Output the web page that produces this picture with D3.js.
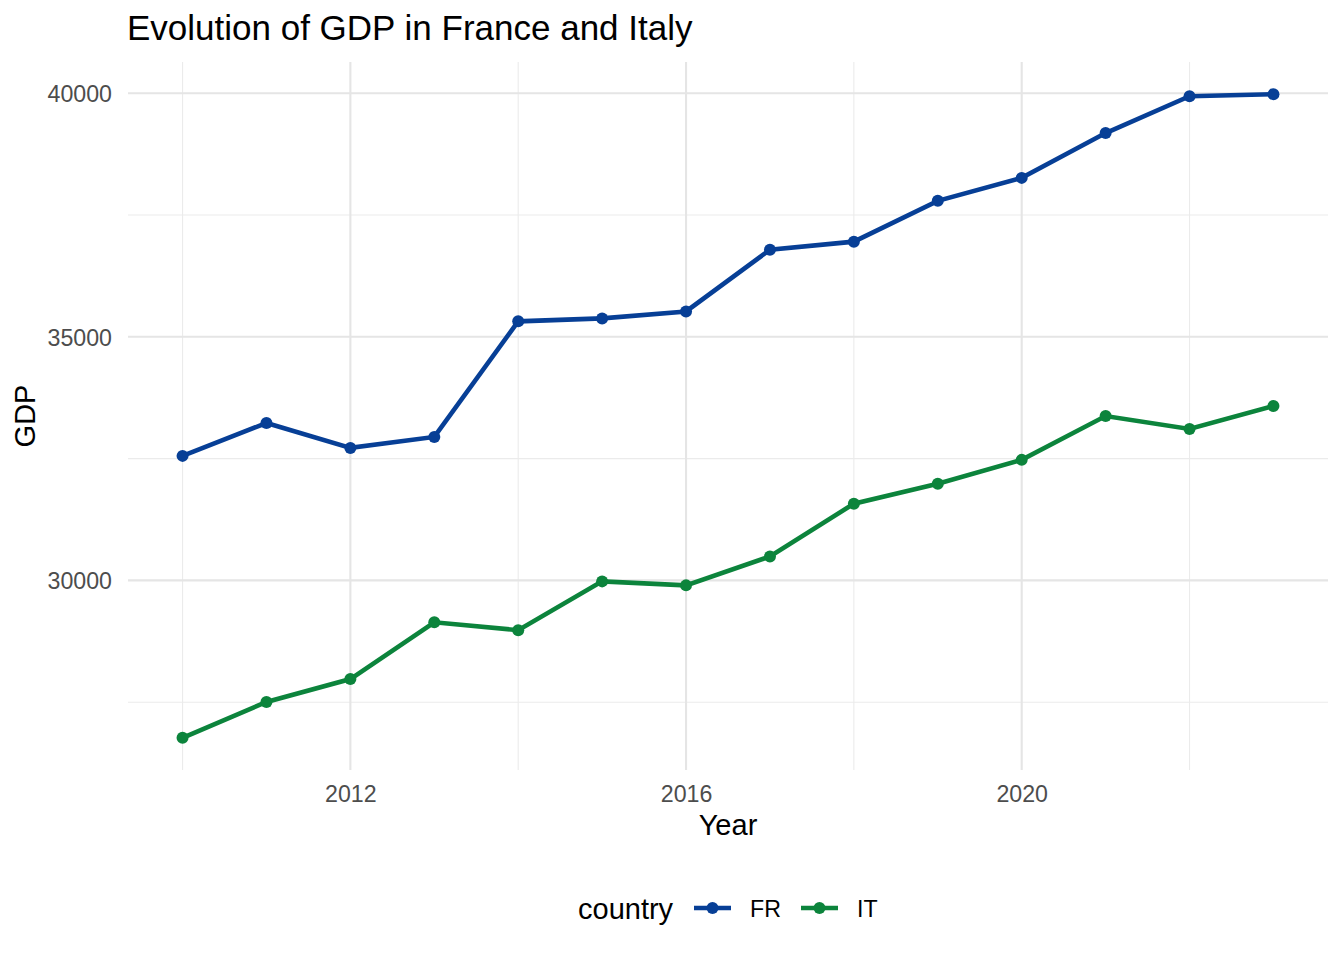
<!DOCTYPE html>
<html>
<head>
<meta charset="utf-8">
<script src="https://cdn.jsdelivr.net/npm/d3@7"></script>
<style>
  body { margin: 0; background: #fff; }
  text { font-family: "Liberation Sans", Arial, sans-serif; }
</style>
</head>
<body>
<div id="chart"></div>
<script>
const years = [2010, 2011, 2012, 2013, 2014, 2015, 2016, 2017, 2018, 2019, 2020, 2021, 2022, 2023]
const gdpFR = [32556, 33231, 32720, 32945, 35317, 35378, 35521, 36789, 36953, 37791, 38262, 39182, 39939, 39980]
const gdpIT = [26769, 27505, 27975, 29141, 28978, 29980, 29898, 30491, 31575, 31984, 32474, 33374, 33108, 33579]
const countries = ["FR", "IT"]
const colors = ["#073F96", "#0C843C"]
const xTicks = [2012, 2016, 2020]
const xMinor = [2010, 2014, 2018, 2022]
const yTicks = [30000, 35000, 40000]
const yMinor = [27500, 32500, 37500]

const width = 1344, height = 960
const margin = { top: 62, right: 16, bottom: 190, left: 128 }
const pw = width - margin.left - margin.right
const ph = height - margin.top - margin.bottom

const svg = d3.select('#chart').append('svg')
    .attr('width', width)
    .attr('height', height)

const series = countries.map((c, i) => ({
    name: c,
    color: colors[i],
    values: years.map((y, j) => ({ year: y, gdp: (i === 0 ? gdpFR : gdpIT)[j] }))
}))

/*
 * Scales with ggplot-like 5% padding.
 */
const xExt = d3.extent(years)
const xPad = (xExt[1] - xExt[0]) * 0.05
const xScale = d3.scaleLinear()
    .domain([xExt[0] - xPad, xExt[1] + xPad])
    .range([0, pw])

const allGdp = gdpFR.concat(gdpIT)
const yExt = d3.extent(allGdp)
const yPad = (yExt[1] - yExt[0]) * 0.05
const yScale = d3.scaleLinear()
    .domain([yExt[0] - yPad, yExt[1] + yPad])
    .range([ph, 0])

const g = svg.append('g')
    .attr('transform', `translate(${margin.left},${margin.top})`)

/* grid lines */
g.selectAll('.yminor').data(yMinor).join('line')
    .attr('x1', 0).attr('x2', pw)
    .attr('y1', d => yScale(d)).attr('y2', d => yScale(d))
    .style('stroke', '#EBEBEB').style('stroke-width', 1.1)
g.selectAll('.xminor').data(xMinor).join('line')
    .attr('y1', 0).attr('y2', ph)
    .attr('x1', d => xScale(d)).attr('x2', d => xScale(d))
    .style('stroke', '#EBEBEB').style('stroke-width', 1.1)
g.selectAll('.ymajor').data(yTicks).join('line')
    .attr('x1', 0).attr('x2', pw)
    .attr('y1', d => yScale(d)).attr('y2', d => yScale(d))
    .style('stroke', '#E5E5E5').style('stroke-width', 2.1)
g.selectAll('.xmajor').data(xTicks).join('line')
    .attr('y1', 0).attr('y2', ph)
    .attr('x1', d => xScale(d)).attr('x2', d => xScale(d))
    .style('stroke', '#E5E5E5').style('stroke-width', 2.1)

/* axes, without domain lines or ticks */
const xAxis = d3.axisBottom(xScale).tickValues(xTicks).tickFormat(d3.format('d')).tickSize(0).tickPadding(16)
const yAxis = d3.axisLeft(yScale).tickValues(yTicks).tickFormat(d3.format('d')).tickSize(0).tickPadding(16)

g.append('g')
    .attr('transform', `translate(0,${ph})`)
    .call(xAxis)
    .call(a => a.select('.domain').remove())
    .selectAll('text')
    .style('font-size', '23.2px')
    .style('fill', '#4D4D4D')
    .style('font-family', '"Liberation Sans", Arial, sans-serif')

g.append('g')
    .call(yAxis)
    .call(a => a.select('.domain').remove())
    .selectAll('text')
    .attr('dy', '0.36em')
    .style('font-size', '23.2px')
    .style('fill', '#4D4D4D')
    .style('font-family', '"Liberation Sans", Arial, sans-serif')

/* lines and points */
const line = d3.line()
    .x(d => xScale(d.year))
    .y(d => yScale(d.gdp))

series.forEach(s => {
    g.append('path')
        .datum(s.values)
        .style('stroke', s.color)
        .style('stroke-width', 4.6)
        .style('fill', 'none')
        .attr('d', line)

    g.selectAll('.pt-' + s.name).data(s.values).join('circle')
        .attr('cx', d => xScale(d.year))
        .attr('cy', d => yScale(d.gdp))
        .attr('r', 6)
        .style('fill', s.color)
})

/* title and axis titles */
svg.append('text')
    .attr('x', 127)
    .attr('y', 40)
    .style('font-size', '35px')
    .style('fill', '#000')
    .text('Evolution of GDP in France and Italy')

svg.append('text')
    .attr('x', margin.left + pw / 2)
    .attr('y', 835)
    .attr('text-anchor', 'middle')
    .style('font-size', '29px')
    .style('fill', '#000')
    .text('Year')

svg.append('text')
    .attr('transform', `translate(35,${margin.top + ph / 2}) rotate(-90)`)
    .attr('text-anchor', 'middle')
    .style('font-size', '29px')
    .style('fill', '#000')
    .text('GDP')

/* legend */
const legend = svg.append('g').attr('transform', 'translate(0,908)')
legend.append('text')
    .attr('x', 578)
    .attr('y', 11)
    .style('font-size', '29px')
    .style('fill', '#000')
    .text('country')

const keyX = [694, 801]
series.forEach((s, i) => {
    const k = legend.append('g').attr('transform', `translate(${keyX[i]},0)`)
    k.append('line')
        .attr('x1', 0).attr('x2', 37)
        .attr('y1', 0).attr('y2', 0)
        .style('stroke', s.color).style('stroke-width', 4.6)
    k.append('circle')
        .attr('cx', 18.5).attr('cy', 0).attr('r', 6)
        .style('fill', s.color)
    k.append('text')
        .attr('x', 56)
        .attr('y', 9)
        .style('font-size', '23.2px')
        .style('fill', '#000')
        .text(s.name)
})
</script>
</body>
</html>
